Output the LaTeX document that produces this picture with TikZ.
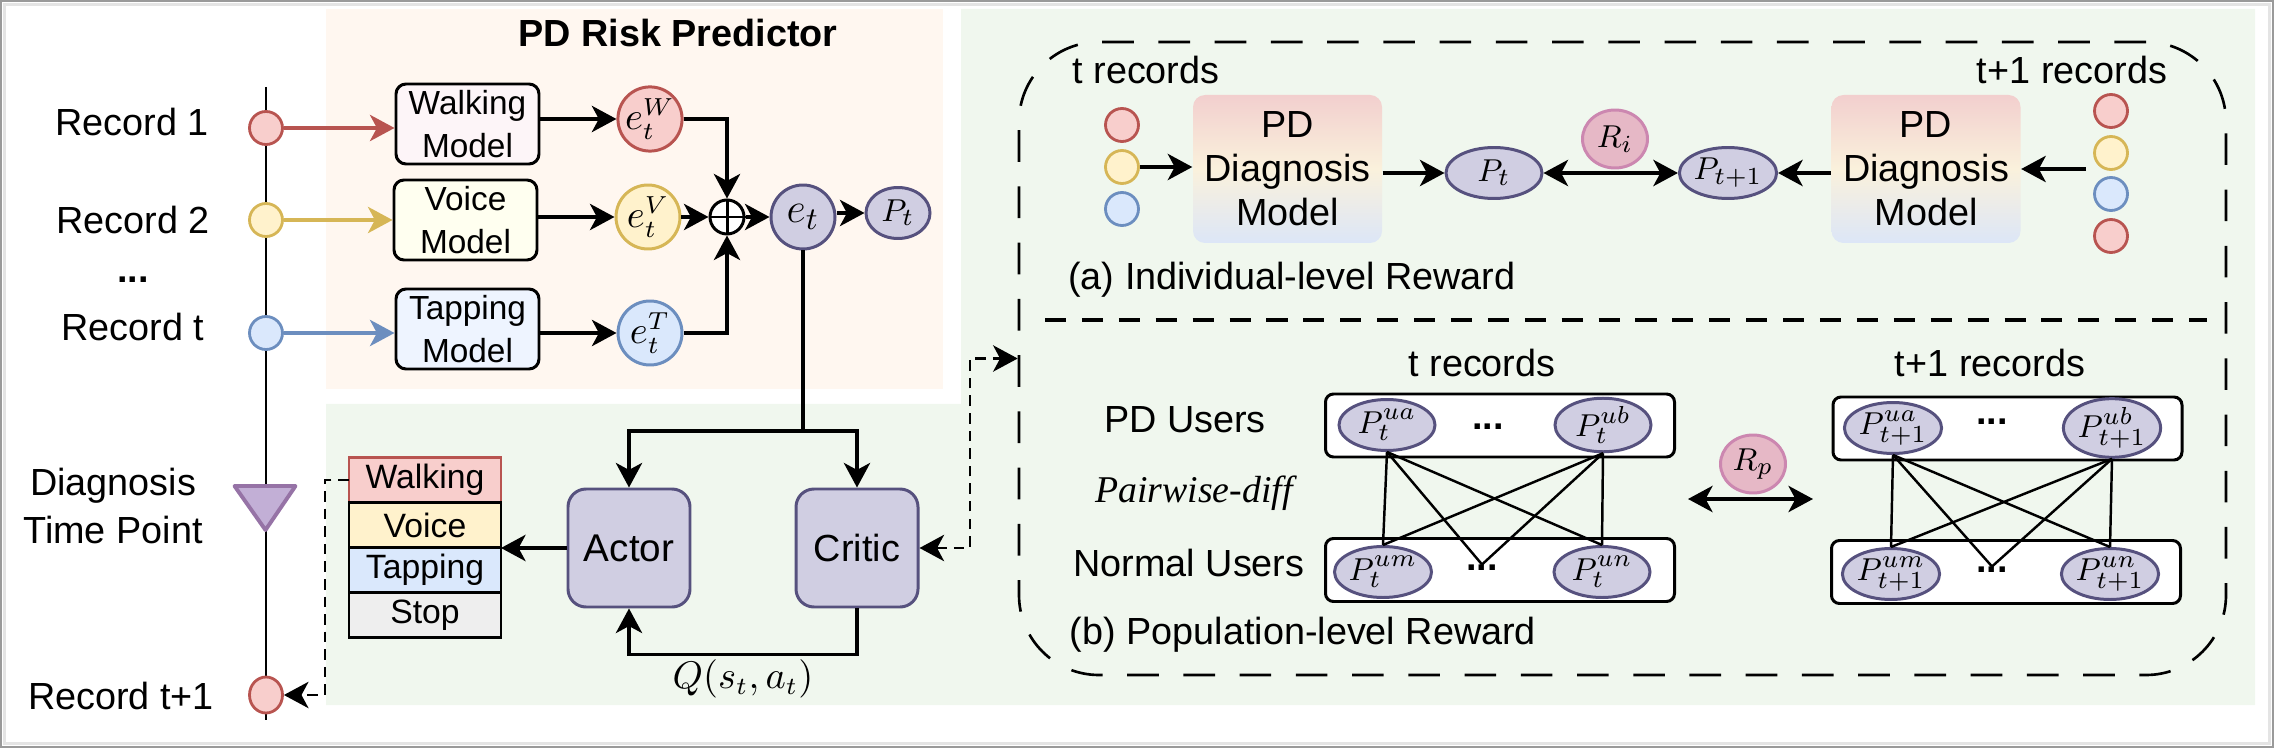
\documentclass[tikz,border=0pt]{standalone}
\usepackage{fontspec}
\setmainfont{Liberation Sans}
\newfontfamily\pairfont{Liberation Serif}
\usetikzlibrary{arrows.meta,positioning,shapes.geometric}

\definecolor{peach}{HTML}{FFF7F0}
\definecolor{mint}{HTML}{F0F7EE}
\definecolor{framedark}{HTML}{9A9A9A}
\definecolor{framelight}{HTML}{E4E4E4}
\definecolor{recred}{HTML}{F8CECC}
\definecolor{recredline}{HTML}{B85450}
\definecolor{recyel}{HTML}{FFF2CC}
\definecolor{recyelline}{HTML}{D6B656}
\definecolor{recblue}{HTML}{DAE8FC}
\definecolor{recblueline}{HTML}{6C8EBF}
\definecolor{embfill}{HTML}{D0CEE2}
\definecolor{embline}{HTML}{56517E}
\definecolor{rewfill}{HTML}{E6B8C6}
\definecolor{rewline}{HTML}{CC87B0}
\definecolor{walkbox}{HTML}{FDF5F8}
\definecolor{voicebox}{HTML}{FFFFF0}
\definecolor{tapbox}{HTML}{EEF4FF}
\definecolor{stopbox}{HTML}{EEEEEE}
\definecolor{trifill}{HTML}{C2AFD6}
\definecolor{triline}{HTML}{9673A6}
\definecolor{pdtop}{HTML}{F2CFCE}
\definecolor{pdmid}{HTML}{FAF1DC}
\definecolor{pdbot}{HTML}{DCE6F7}

\tikzset{
  rec/.style={ellipse, minimum width=0.33cm, minimum height=0.33cm, inner sep=0pt, line width=0.8pt},
  recR/.style={rec, fill=recred, draw=recredline},
  recY/.style={rec, fill=recyel, draw=recyelline},
  recB/.style={rec, fill=recblue, draw=recblueline},
  model/.style={rectangle, rounded corners=0.1cm, draw, line width=0.85pt, minimum width=1.43cm, minimum height=0.8cm, inner sep=0pt, align=center, font=\fontsize{9.5}{12.4}\selectfont},
  emb/.style={circle, minimum size=0.64cm, inner sep=0pt, line width=0.85pt, font=\fontsize{10.5}{12}\selectfont},
  prob/.style={ellipse, fill=embfill, draw=embline, line width=0.85pt, minimum width=0.96cm, minimum height=0.51cm, inner sep=0pt, font=\fontsize{9.5}{11}\selectfont},
  rew/.style={ellipse, fill=rewfill, draw=rewline, line width=0.85pt, minimum width=0.65cm, minimum height=0.58cm, inner sep=0pt, font=\fontsize{9.5}{11}\selectfont},
  agent/.style={rectangle, rounded corners=0.18cm, fill=embfill, draw=embline, line width=0.85pt, minimum width=1.22cm, minimum height=1.18cm},
  act/.style={rectangle, draw, line width=0.85pt, outer sep=0pt, minimum width=1.52cm, minimum height=0.45cm, inner sep=0pt, font=\fontsize{9.6}{11}\selectfont},
  pdbox/.style={rectangle, rounded corners=0.12cm, top color=pdtop, bottom color=pdbot, middle color=pdmid, minimum width=1.89cm, minimum height=1.48cm, inner sep=0pt, align=center},
  group/.style={rectangle, rounded corners=0.08cm, draw, fill=white, line width=0.85pt, minimum width=3.49cm, minimum height=0.63cm},
  dots/.style={inner sep=0pt, font=\bfseries\fontsize{10.75}{12}\selectfont},
  link/.style={->, line width=0.9pt},
  smalldash/.style={line width=0.75pt, dash pattern=on 3pt off 2pt},
}

\begin{document}
\begin{tikzpicture}[>={Stealth[length=7pt,width=7.5pt,inset=2pt]}, font=\fontsize{10.75}{12.5}\selectfont]
\useasboundingbox (0,0) rectangle (22.74,-7.48);
\fill[peach] (3.26,-0.09) rectangle (9.43,-3.89);% predictor panel
\fill[mint] (9.61,-0.09) -- (22.55,-0.09) -- (22.55,-7.05) -- (3.26,-7.05) -- (3.26,-4.04) -- (9.61,-4.04) -- cycle;% agent and reward panel
\draw[framelight, line width=0.9pt] (0.045,-0.045) rectangle (22.695,-7.435);
\draw[framedark, line width=0.5pt] (0.01,-0.01) rectangle (22.73,-7.47);

\node[font=\bfseries\fontsize{10.75}{13}\selectfont] (title) at (6.78,-0.33) {PD Risk Predictor};

% time line
\draw[line width=0.7pt] (2.66,-0.87) -- (2.66,-7.20);
\node[recR] (r1) at (2.66,-1.28) {};
\node[recY] (r2) at (2.66,-2.20) {};
\node[recB] (r3) at (2.66,-3.33) {};
\node[recR, minimum height=0.36cm] (rn) at (2.66,-6.95) {};
\draw[triline, fill=trifill, line width=1.1pt, line join=round] (2.345,-4.86) -- (2.955,-4.86) -- (2.655,-5.30) -- cycle;% diagnosis time point
\node (l1) at (1.32,-1.22) {Record 1};
\node (l2) at (1.33,-2.20) {Record 2};
\node[dots] (ldots) at (1.33,-2.80) {...};
\node (l3) at (1.33,-3.27) {Record t};
\node[align=center, font=\fontsize{10.75}{13.7}\selectfont] (ldiag) at (1.13,-5.06) {Diagnosis\\Time Point};
\node (ln) at (1.21,-6.96) {Record t+1};

% risk predictor
\node[model, fill=walkbox] (walk) at (4.675,-1.24) {Walking\\Model};
\node[model, fill=voicebox] (voice) at (4.655,-2.20) {Voice\\Model};
\node[model, fill=tapbox] (tap) at (4.675,-3.29) {Tapping\\Model};
\node[emb, fill=recred, draw=recredline] (eW) at (6.50,-1.19) {$e_t^W$};
\node[emb, fill=recyel, draw=recyelline] (eV) at (6.48,-2.17) {$e_t^V$};
\node[emb, fill=recblue, draw=recblueline] (eT) at (6.50,-3.33) {$e_t^T$};
\node[circle, draw, fill=white, line width=0.85pt, minimum size=0.34cm, inner sep=0pt] (sum) at (7.27,-2.17) {};
\draw[line width=0.85pt] (sum.north) -- (sum.south) (sum.west) -- (sum.east);
\node[emb, fill=embfill, draw=embline, font=\fontsize{13}{15}\selectfont] (et) at (8.03,-2.17) {$e_t$};
\node[prob, minimum width=0.64cm] (Pt) at (8.98,-2.13) {$P_t$};

\draw[link, recredline] (r1) -- (r1 -| walk.west);
\draw[link, recyelline] (r2) -- (r2 -| voice.west);
\draw[link, recblueline] (r3) -- (r3 -| tap.west);
\draw[link] (walk.east |- eW) -- (eW);
\draw[link] (voice.east |- eV) -- (eV);
\draw[link] (tap.east |- eT) -- (eT);
\draw[link] (eW.east) -| (sum.north);
\draw[link] (eV) -- (sum);
\draw[link] (eT.east) -| (sum.south);
\draw[link] (sum) -- (et);
\draw[link] (et.east |- Pt) -- (Pt);

% actor critic
\node[agent] (actor) at (6.29,-5.48) {\fontsize{11}{13}\selectfont Actor};
\node[agent] (critic) at (8.57,-5.48) {Critic};
\coordinate (split) at (8.03,-4.31);
\draw[line width=0.9pt] (et) -- (split);
\draw[link] (split) -| (actor);
\draw[link] (split) -| (critic);
\draw[link] (critic.south) -- ++(0,-0.46) -| (actor.south) node[pos=0.25, below, inner sep=1pt, font=\fontsize{10.5}{12}\selectfont] {$Q(s_t,a_t)$};

\node[act, fill=recred, draw=recredline] (aWalk) at (4.25,-4.80) {Walking};
\node[act, fill=recyel, below=0pt of aWalk] (aVoice) {Voice};
\node[act, fill=recblue, below=0pt of aVoice] (aTap) {Tapping};
\node[act, fill=stopbox, below=0pt of aTap] (aStop) {Stop};
\draw[link] (actor.west) -- (actor.west -| aVoice.east);
\draw[smalldash, ->] (aWalk.west) -- (3.25,-4.80) |- (rn);

% reward
\node[draw, line width=0.75pt, dash pattern=on 9pt off 7pt, rounded corners=0.8cm, minimum width=12.07cm, minimum height=6.33cm] (reward) at (16.225,-3.585) {};
\draw[line width=1.4pt, dash pattern=on 6pt off 4.5pt] (10.45,-3.20) -- (22.07,-3.20);% split of (a) and (b)
\draw[smalldash, <->] (critic.east) -- (9.70,-5.48) |- (reward.west);

% (a) individual level
\node (ta) at (11.46,-0.70) {t records};
\node (tna) at (20.72,-0.70) {t+1 records};
\node[recR] (c1) at (11.22,-1.25) {};
\node[recY] (c2) at (11.22,-1.67) {};
\node[recB] (c3) at (11.22,-2.09) {};
\node[recR] (d1) at (21.11,-1.11) {};
\node[recY] (d2) at (21.11,-1.53) {};
\node[recB] (d3) at (21.11,-1.94) {};
\node[recR] (d4) at (21.11,-2.36) {};
\node[pdbox] (pdl) at (12.875,-1.69) {PD\\Diagnosis\\Model};
\node[pdbox] (pdr) at (19.26,-1.69) {PD\\Diagnosis\\Model};
\node[prob] (Pi) at (14.94,-1.73) {$P_t$};
\node[prob] (Pn) at (17.28,-1.73) {$P_{t+1}$};
\node[rew] (Ri) at (16.15,-1.39) {$R_i$};
\coordinate (rin) at (20.86,-1.69);
\draw[link] (c2) -- (c2 -| pdl.west);
\draw[link] (pdl.east |- Pi) -- (Pi);
\draw[link, <->] (Pi) -- (Pn);
\draw[link] (pdr.west |- Pn) -- (Pn);
\draw[link] (rin) -- (pdr);
\node (capa) at (12.92,-2.80) {(a) Individual-level Reward};

% (b) population level
\node (tb) at (14.82,-3.63) {t records};
\node (tnb) at (19.90,-3.63) {t+1 records};
\node (pdu) at (11.85,-4.20) {PD Users};
\node[font=\pairfont\itshape\fontsize{10.75}{12}\selectfont] (pair) at (11.94,-4.93) {Pairwise-diff};
\node (nmu) at (11.89,-5.63) {Normal Users};
\node[group] (gtu) at (15.0,-4.255) {};
\node[group] (gtn) at (15.0,-5.70) {};
\node[group] (gnu) at (20.075,-4.285) {};
\node[group] (gnn) at (20.06,-5.72) {};
\node[prob] (ua) at (13.87,-4.25) {$P_t^{ua}$};
\node[prob] (ub) at (16.03,-4.25) {$P_t^{ub}$};
\node[prob] (um) at (13.83,-5.72) {$P_t^{um}$};
\node[prob] (un) at (16.02,-5.72) {$P_t^{un}$};
\node[dots] (du) at (14.88,-4.27) {...};
\node[dots] (dn) at (14.82,-5.68) {...};
\node[prob] (nua) at (18.93,-4.28) {$P_{t+1}^{ua}$};
\node[prob] (nub) at (21.12,-4.28) {$P_{t+1}^{ub}$};
\node[prob] (num) at (18.91,-5.74) {$P_{t+1}^{um}$};
\node[prob] (nun) at (21.10,-5.74) {$P_{t+1}^{un}$};
\node[dots] (ndu) at (19.92,-4.22) {...};
\node[dots] (ndn) at (19.92,-5.70) {...};
\foreach \s in {ua,ub}
  \foreach \e in {um,dn,un}
    \draw[line width=0.7pt] (\s.south) -- (\e.north);
\foreach \s in {nua,nub}
  \foreach \e in {num,ndn,nun}
    \draw[line width=0.7pt] (\s.south) -- (\e.north);
\node[rew] (Rp) at (17.53,-4.64) {$R_p$};
\coordinate (rpl) at (16.88,-4.99);
\coordinate (rpr) at (18.13,-4.99);
\draw[link, <->] (rpl) -- (rpr);
\node (capb) at (13.03,-6.35) {(b) Population-level Reward};
\end{tikzpicture}
\end{document}
